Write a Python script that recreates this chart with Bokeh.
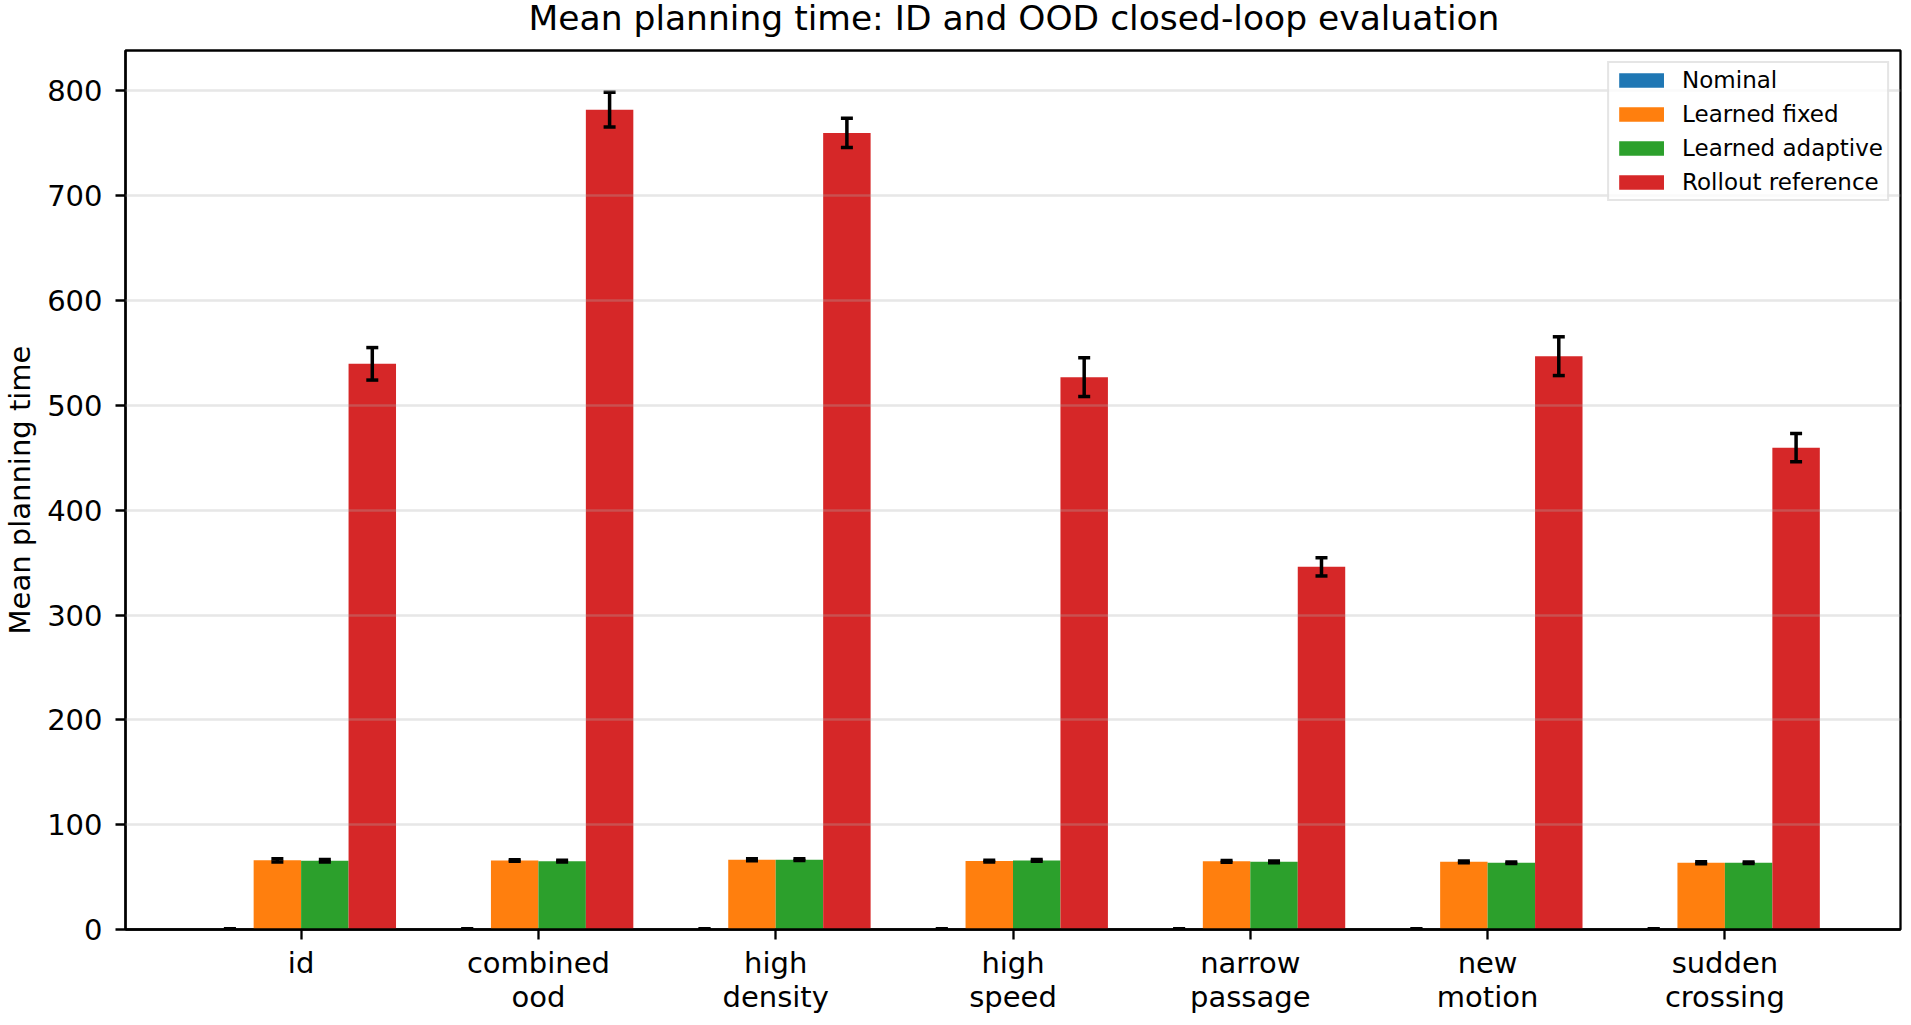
import numpy as np
from bokeh.plotting import figure
from bokeh.layouts import column
from bokeh.models import Range1d, FixedTicker, ColumnDataSource, Div
from bokeh.embed import file_html
from bokeh.resources import INLINE

# ---- data ----
categories = ["id", "combined\nood", "high\ndensity", "high\nspeed",
              "narrow\npassage", "new\nmotion", "sudden\ncrossing"]
series_names = ["Nominal", "Learned fixed", "Learned adaptive", "Rollout reference"]
nominal = [0.4, 0.4, 0.4, 0.4, 0.4, 0.4, 0.4]
nominal_err = [0.2, 0.2, 0.2, 0.2, 0.2, 0.2, 0.2]
learned_fixed = [66.0, 65.8, 66.6, 65.3, 65.0, 64.6, 63.7]
learned_fixed_err = [1.5, 0.8, 1.0, 0.8, 0.8, 0.8, 1.0]
learned_adaptive = [65.6, 65.2, 66.6, 65.9, 64.6, 63.7, 63.7]
learned_adaptive_err = [1.3, 0.8, 0.8, 0.8, 0.8, 0.8, 0.8]
rollout = [539.7, 782.2, 760.0, 527.0, 346.0, 547.0, 459.7]
rollout_err = [15.5, 16.5, 14.0, 18.5, 8.7, 18.5, 13.5]
y_ticks = [0, 100, 200, 300, 400, 500, 600, 700, 800]
title_text = "Mean planning time: ID and OOD closed-loop evaluation"

colors = ["#1f77b4", "#ff7f0e", "#2ca02c", "#d62728"]
values = [nominal, learned_fixed, learned_adaptive, rollout]
errors = [nominal_err, learned_fixed_err, learned_adaptive_err, rollout_err]

FONT = "DejaVu Sans"
bar_w = 0.2
offsets = [-0.3, -0.1, 0.1, 0.3]
xs = np.arange(len(categories))

top_max = max(v + e for vals, errs in zip(values, errors) for v, e in zip(vals, errs))

title_div = Div(text=title_text, width=1778, height=44, margin=(0, 0, 0, 125),
                styles={"font-family": FONT, "font-size": "34.5px", "line-height": "37px",
                        "text-align": "center", "white-space": "nowrap", "color": "black",
                        "width": "1778px"})

p = figure(width=1902, height=972, output_backend="svg", toolbar_location=None,
           x_range=Range1d(-0.4 - 0.05 * 6.8, 6.4 + 0.05 * 6.8),
           y_range=Range1d(0, top_max * 1.05),
           min_border_left=122, min_border_right=2, min_border_top=6, min_border_bottom=84)

sources = []
for vals, errs, col, name, off in zip(values, errors, colors, series_names, offsets):
    src = ColumnDataSource(dict(x=xs + off, top=vals,
                                upper=[v + e for v, e in zip(vals, errs)],
                                lower=[v - e for v, e in zip(vals, errs)]))
    sources.append(src)
    p.vbar(x="x", top="top", bottom=0, width=bar_w, source=src, fill_color=col,
           line_color=None, legend_label=name)

# error bars drawn after all bars
for src in sources:
    p.segment(x0="x", y0="lower", x1="x", y1="upper", source=src,
              line_color="black", line_width=3.5)
    p.dash(x="x", y="upper", size=12, line_width=3.5, line_color="black", source=src)
    p.dash(x="x", y="lower", size=12, line_width=3.5, line_color="black", source=src)

# axes
p.xaxis.ticker = FixedTicker(ticks=list(xs))
p.xaxis.major_label_overrides = {int(i): c for i, c in zip(xs, categories)}
p.yaxis.ticker = FixedTicker(ticks=y_ticks)
p.yaxis.axis_label = "Mean planning time"
for ax in (p.xaxis[0], p.yaxis[0]):
    ax.major_label_text_font = FONT
    ax.major_label_text_font_size = "29px"
    ax.major_label_text_color = "black"
    ax.axis_label_text_font = FONT
    ax.axis_label_text_font_size = "29px"
    ax.axis_label_text_font_style = "normal"
    ax.axis_label_text_color = "black"
    ax.axis_line_color = "black"
    ax.axis_line_width = 2.3
    ax.major_tick_line_color = "black"
    ax.major_tick_line_width = 2.3
    ax.major_tick_out = 10
    ax.major_tick_in = 0
    ax.minor_tick_line_color = None
p.yaxis.major_label_standoff = 13
p.xaxis.major_label_standoff = 6
p.xaxis.major_label_text_line_height = 1.0
p.yaxis.axis_label_standoff = 7
p.yaxis.axis_label_text_line_height = 1.0

p.outline_line_color = "black"
p.outline_line_width = 2.3
p.xgrid.grid_line_color = None
p.ygrid.grid_line_color = "#b0b0b0"
p.ygrid.grid_line_alpha = 0.3
p.ygrid.grid_line_width = 2.3
p.ygrid.level = "guide"

# legend
lg = p.legend[0]
lg.location = "top_right"
lg.margin = 11
lg.padding = 4
lg.spacing = 8
lg.glyph_width = 56
lg.glyph_height = 18
lg.label_height = 24
lg.label_width = 200
lg.label_standoff = 13
lg.label_text_font = FONT
lg.label_text_font_size = "23px"
lg.label_text_color = "black"
lg.border_line_color = "#cccccc"
lg.border_line_width = 2
lg.background_fill_alpha = 0.8

p.background_fill_color = "white"
p.border_fill_color = "white"

layout = column(title_div, p, spacing=0)
open("out.html", "w").write(file_html(layout, INLINE))
